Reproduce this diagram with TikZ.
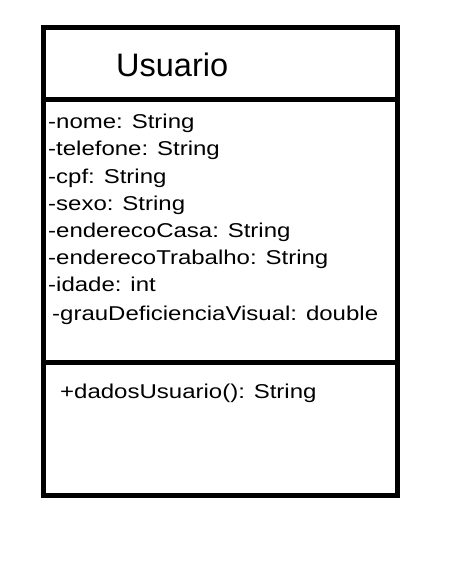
\documentclass[tikz,border=0pt]{standalone}
\usepackage{fontspec}
\setmainfont{Liberation Sans}
\newfontfamily\umlfont[FakeStretch=1.2]{Liberation Sans}
\usetikzlibrary{positioning}

\tikzset{
  attr/.style={anchor=base west,inner sep=0pt,font=\umlfont\fontsize{20}{24}\selectfont},
  titulo/.style={anchor=base west,inner sep=0pt,font=\fontsize{32.5}{39}\selectfont},
  borda/.style={line width=5pt}
}

\begin{document}
\begin{tikzpicture}[x=1pt,y=-1pt]
        \useasboundingbox (0,0) rectangle (454,561);

        % caixa da classe
        \draw[borda] (43.5,27.5) rectangle (397,495);
        \draw[borda] (43.5,99.5) -- (397,99.5);
        \draw[borda] (43.5,362) -- (397,362);

        % nome da classe
        \node[titulo] (nome) at (116,77) {Usuario};

        % atributos
        \node[attr] (a1) at (48,129) {-nome: String};
        \node[attr] (a2) at (48,156) {-telefone: String};
        \node[attr] (a3) at (48,183) {-cpf: String};
        \node[attr] (a4) at (48,210) {-sexo: String};
        \node[attr] (a5) at (48,237) {-enderecoCasa: String};
        \node[attr] (a6) at (48,264) {-enderecoTrabalho: String};
        \node[attr] (a7) at (48,291) {-idade: int};
        \node[attr] (a8) at (52,320) {-grauDeficienciaVisual: double};

        % metodos
        \node[attr] (m1) at (60,398) {+dadosUsuario(): String};
    \end{tikzpicture}
\end{document}
